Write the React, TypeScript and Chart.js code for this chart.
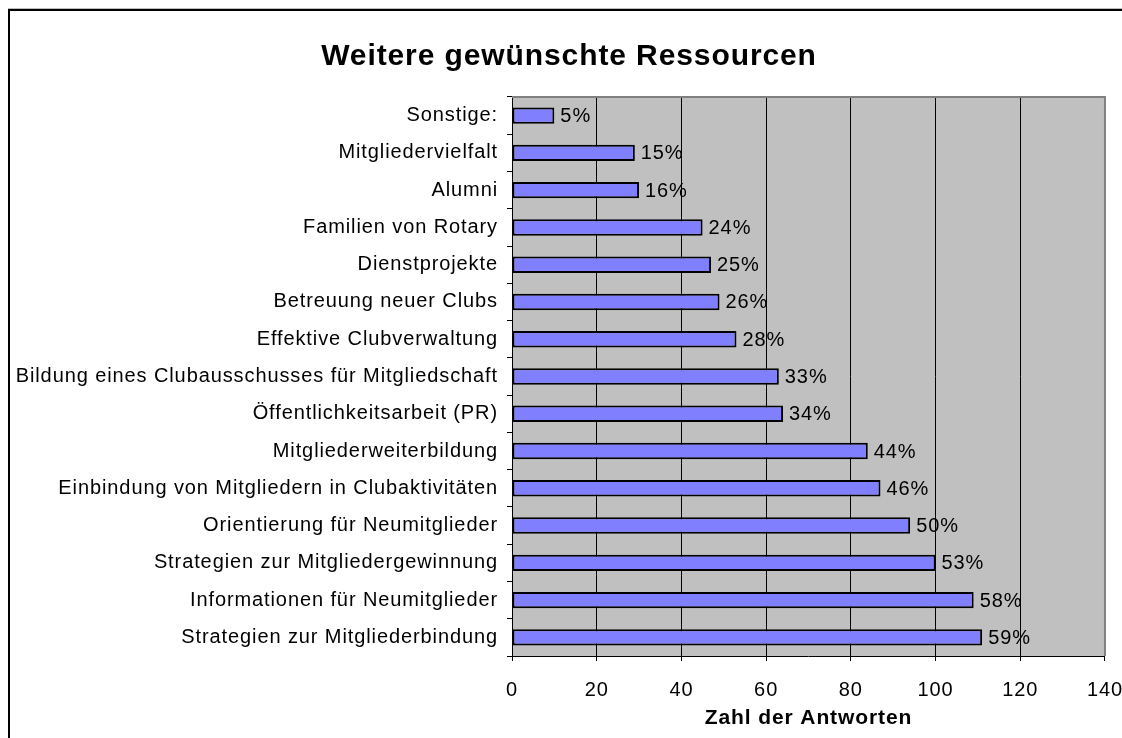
import React, { useEffect, useRef } from "react";
import { Chart, registerables } from "chart.js";

Chart.register(...registerables);

const categories = [
  "Sonstige:",
  "Mitgliedervielfalt",
  "Alumni",
  "Familien von Rotary",
  "Dienstprojekte",
  "Betreuung neuer Clubs",
  "Effektive Clubverwaltung",
  "Bildung eines Clubausschusses für Mitgliedschaft",
  "Öffentlichkeitsarbeit (PR)",
  "Mitgliederweiterbildung",
  "Einbindung von Mitgliedern in Clubaktivitäten",
  "Orientierung für Neumitglieder",
  "Strategien zur Mitgliedergewinnung",
  "Informationen für Neumitglieder",
  "Strategien zur Mitgliederbindung",
];
const responses = [10, 29, 30, 45, 47, 49, 53, 63, 64, 84, 87, 94, 100, 109, 111];
const percentLabels = ["5%", "15%", "16%", "24%", "25%", "26%", "28%", "33%", "34%", "44%", "46%", "50%", "53%", "58%", "59%"];
const xTicks = [0, 20, 40, 60, 80, 100, 120, 140];

const FONT = "'Liberation Sans', Arial, sans-serif";
const SPACING = "0.9px";
const CANVAS_W = 1132;
const CANVAS_H = 730;

const framePlugin = {
  id: "frame",
  beforeUpdate(chart: any) {
    chart.ctx.letterSpacing = SPACING;
  },
  beforeLayout(chart: any) {
    chart.ctx.letterSpacing = SPACING;
  },
  beforeDraw(chart: any) {
    const { ctx, chartArea } = chart;
    ctx.letterSpacing = SPACING;
    ctx.save();
    ctx.fillStyle = "#c0c0c0";
    ctx.fillRect(chartArea.left, chartArea.top, chartArea.right - chartArea.left, chartArea.bottom - chartArea.top);
    // outer frame
    ctx.fillStyle = "#bdbdbd";
    ctx.fillRect(0, 0, chart.width, 1);
    ctx.fillStyle = "#000";
    ctx.fillRect(0, 1, chart.width, 2);
    ctx.fillRect(0, 1, 2, chart.height);
    ctx.restore();
  },
  afterDatasetsDraw(chart: any) {
    const { ctx, chartArea } = chart;
    ctx.save();
    // plot border top/right
    ctx.strokeStyle = "#808080";
    ctx.lineWidth = 2;
    ctx.beginPath();
    ctx.moveTo(chartArea.left, chartArea.top);
    ctx.lineTo(chartArea.right, chartArea.top);
    ctx.lineTo(chartArea.right, chartArea.bottom);
    ctx.stroke();
    // value labels
    const meta = chart.getDatasetMeta(0);
    ctx.fillStyle = "#000";
    ctx.font = `20px ${FONT}`;
    ctx.letterSpacing = SPACING;
    ctx.textAlign = "left";
    ctx.textBaseline = "middle";
    meta.data.forEach((bar: any, i: number) => {
      ctx.fillText(percentLabels[i], bar.x + 6, bar.y + 1);
    });
    ctx.restore();
  },
};

export default function App() {
  const ref = useRef<HTMLCanvasElement>(null);
  useEffect(() => {
    const ctx2d = ref.current!.getContext("2d") as any;
    ctx2d.letterSpacing = SPACING;
    const chart = new Chart(ctx2d, {
      type: "bar",
      data: {
        labels: categories,
        datasets: [
          {
            data: responses,
            backgroundColor: "#8080ff",
            borderColor: "#000",
            borderWidth: 2,
            borderSkipped: false,
            categoryPercentage: 1,
            barPercentage: 0.44,
          },
        ],
      },
      options: {
        indexAxis: "y",
        responsive: false,
        animation: false,
        layout: { padding: { left: 0, right: 10, top: 0, bottom: 0 } },
        plugins: {
          legend: { display: false },
          tooltip: { enabled: false },
          title: {
            display: true,
            text: "Weitere gewünschte Ressourcen",
            color: "#000",
            font: { family: FONT, size: 30, weight: "bold" },
            padding: { top: 31, bottom: 22 },
          },
        },
        scales: {
          y: {
            afterFit: (s: any) => {
              s.width = 504;
            },
            grid: {
              offset: true,
              drawOnChartArea: false,
              color: "#000",
              tickLength: 5,
              tickColor: "#000",
            },
            border: { color: "#000", width: 1 },
            ticks: {
              color: "#000",
              font: { family: FONT, size: 20 },
              padding: 9,
              autoSkip: false,
            },
          },
          x: {
            min: 0,
            max: 140,
            afterBuildTicks: (s: any) => {
              s.ticks = xTicks.map((v) => ({ value: v }));
            },
            afterFit: (s: any) => {
              s.height = 82;
            },
            grid: {
              color: "#000",
              tickLength: 5,
              tickColor: "#000",
            },
            border: { color: "#000", width: 1 },
            ticks: {
              color: "#000",
              font: { family: FONT, size: 20 },
              padding: 17,
            },
            title: {
              display: true,
              text: "Zahl der Antworten",
              color: "#000",
              font: { family: FONT, size: 21, weight: "bold" },
              padding: { top: 6, bottom: 7 },
            },
          },
        },
      },
      plugins: [framePlugin],
    });
    return () => chart.destroy();
  }, []);
  return (
    <div style={{ position: "fixed", left: 8, top: 8, width: 1114, height: 730, overflow: "hidden" }}>
      <canvas ref={ref} width={CANVAS_W} height={CANVAS_H} style={{ display: "block" }} />
    </div>
  );
}
